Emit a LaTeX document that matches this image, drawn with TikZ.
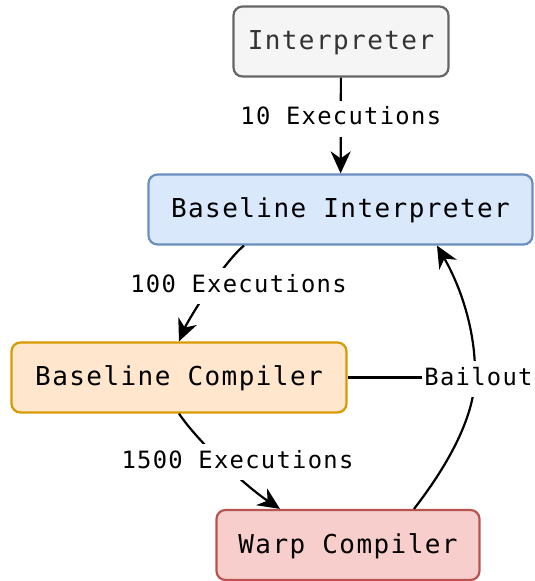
\documentclass[tikz,border=0pt]{standalone}
\usepackage{fontspec}
\usetikzlibrary{arrows.meta,calc}
\newfontfamily\boxfont[LetterSpace=5.5]{DejaVu Sans Mono}
\newfontfamily\lblfont[LetterSpace=5.5]{DejaVu Sans Mono}
\definecolor{grayfill}{HTML}{F5F5F5}
\definecolor{graydraw}{HTML}{666666}
\definecolor{graytext}{HTML}{333333}
\definecolor{bluefill}{HTML}{DAE8FC}
\definecolor{bluedraw}{HTML}{6C8EBF}
\definecolor{orangefill}{HTML}{FFE6CC}
\definecolor{orangedraw}{HTML}{D79B00}
\definecolor{redfill}{HTML}{F8CECC}
\definecolor{reddraw}{HTML}{B85450}
\tikzset{
  stage/.style={draw, rounded corners=9pt, line width=2.2pt, minimum height=70pt,
    inner sep=0pt, text height=16pt, text depth=0pt,
    font=\boxfont\fontsize{26}{31}\selectfont},
  lbl/.style={fill=white, inner xsep=2pt, inner ysep=4pt,
    font=\lblfont\fontsize{23.8}{28}\selectfont},
  link/.style={line width=2.2pt, draw=black},
  arr/.style={link, -{Stealth[length=22pt,width=20pt,inset=7pt]}},
}
\begin{document}
\begin{tikzpicture}[x=1pt,y=-1pt]
\useasboundingbox (0,0) rectangle (535,581);

% stages
\node[stage, fill=grayfill, draw=graydraw, text=graytext, minimum width=215pt]
  (ip) at (341,41.5) {Interpreter};
\node[stage, fill=bluefill, draw=bluedraw, minimum width=384pt]
  (bi) at (340.5,209.5) {Baseline Interpreter};
\node[stage, fill=orangefill, draw=orangedraw, minimum width=335pt]
  (bc) at (179,377.5) {Baseline Compiler};
\node[stage, fill=redfill, draw=reddraw, minimum width=263pt]
  (wc) at (348,545) {Warp Compiler};

% Interpreter -> Baseline Interpreter
\draw[arr] (ip) -- node[lbl, pos=0.43] (l10) {\strut 10 Executions} (bi);

% Baseline Interpreter -> Baseline Compiler
\coordinate (biout) at ($(bi.south)+(-96.5,0)$);
\draw[arr] (biout) .. controls ($(biout)+(-22,18)$) and ($(bc.north)+(8,-19)$) .. (bc.north);
\node[lbl] (l100) at (238.5,286.4) {\strut 100 Executions};

% Baseline Compiler -> Warp Compiler
\coordinate (wcin) at ($(wc.north)+(-68,0)$);
\draw[arr] (bc.south) .. controls ($(bc.south)+(18,27)$) and ($(wcin)+(-35,-23)$) .. (wcin);
\node[lbl] (l1500) at (237.5,462.4) {\strut 1500 Executions};

% Warp Compiler -> Baseline Interpreter (bailout)
\coordinate (wcout) at ($(wc.north)+(66,0)$);
\coordinate (biin) at ($(bi.south)+(96.5,0)$);
\coordinate (bmid) at (475,377);
\draw[arr] (wcout) .. controls ($(wcout)+(31,-40)$) and ($(bmid)+(-1,43)$) .. (bmid)
  .. controls ($(bmid)+(1,-47)$) and ($(biin)+(23,40)$) .. (biin);
\node[lbl] (lbail) at (478.5,379.4) {\strut Bailout};
\draw[link] (bc.east) -- (lbail.west |- bc.east);
\end{tikzpicture}
\end{document}
